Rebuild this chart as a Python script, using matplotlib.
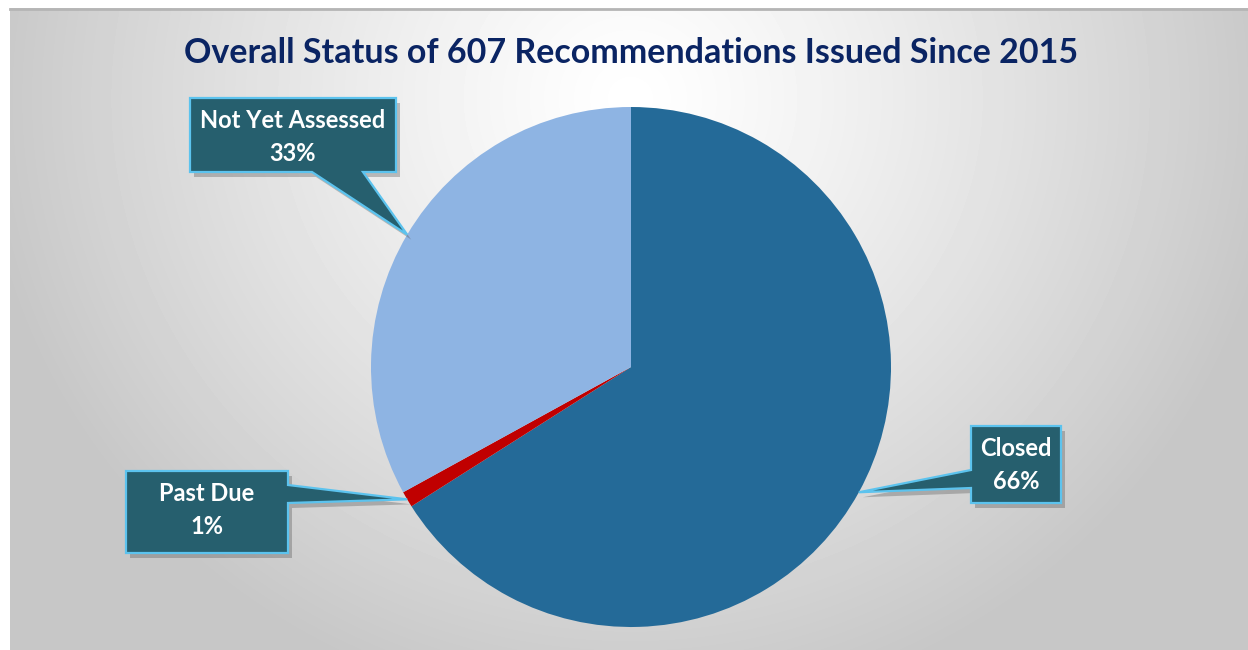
import numpy as np
import matplotlib
matplotlib.use('Agg')
import matplotlib.pyplot as plt
from matplotlib.patches import Polygon

# data
labels = ['Closed', 'Past Due', 'Not Yet Assessed']
shares = [66, 1, 33]
colors = ['#246A98', '#C00000', '#8EB4E3']
title = 'Overall Status of 607 Recommendations Issued Since 2015'

W, H = 1248, 650
fig = plt.figure(figsize=(W / 100, H / 100), dpi=100)
fig.patch.set_facecolor('white')

# gray radial background of the chart area
bg = fig.add_axes([10 / W, 0, (W - 10) / W, (H - 8) / H])
bg.set_axis_off()
yy, xx = np.mgrid[0:642, 0:1238]
r = np.sqrt(((xx - 620) / 650.0) ** 2 + ((yy - 90) / 620.0) ** 2)
shade = 1.0 - 0.22 * np.clip(r, 0, 1) ** 1.2
bg.imshow(shade, cmap='gray', vmin=0, vmax=1, aspect='auto', interpolation='bilinear')
fig.add_artist(plt.Line2D([10 / W, 1], [(H - 9) / H] * 2, color='#B5B5B5', lw=2))

# pie
cx, cy, R = 631, 367, 260
pax = fig.add_axes([(cx - R) / W, (H - cy - R) / H, 2 * R / W, 2 * R / H])
wedges, _ = pax.pie(shares, colors=colors, startangle=90, counterclock=False,
                    radius=1, wedgeprops=dict(linewidth=0))
pax.set_xlim(-1, 1)
pax.set_ylim(-1, 1)
pax.set_axis_off()

# overlay in pixel coordinates for callouts
ov = fig.add_axes([0, 0, 1, 1])
ov.set_xlim(0, W)
ov.set_ylim(H, 0)
ov.set_axis_off()

fig.text(631 / W, 1 - 53 / H, title, ha='center', va='center', fontsize=24.5,
         fontweight='bold', color='#0A2463', family='Lato')


def tip_of(w):
    mid = np.deg2rad((w.theta1 + w.theta2) / 2)
    return cx + R * np.cos(mid), cy - R * np.sin(mid)


box_fill = '#265F6E'
box_edge = '#5CC3EE'


def callout(verts, text, tx, ty):
    sh = [(x + 4, y + 5) for x, y in verts]
    ov.add_patch(Polygon(sh, closed=True, facecolor='#555555', alpha=0.35, lw=0))
    ov.add_patch(Polygon(verts, closed=True, facecolor=box_fill, edgecolor=box_edge,
                         lw=1.6, joinstyle='miter'))
    ov.text(tx, ty, text, ha='center', va='center', color='white', fontsize=17,
            fontweight='bold', family='Lato', linespacing=1.55)


t_closed = tip_of(wedges[0])
t_past = tip_of(wedges[1])
t_nya = tip_of(wedges[2])

callout([(190, 98), (396, 98), (396, 172), (363, 172), t_nya, (312, 172), (190, 172)],
        'Not Yet Assessed\n33%', 293, 137)
callout([(126, 471), (288, 471), (288, 485), t_past, (288, 503), (288, 553), (126, 553)],
        'Past Due\n1%', 207, 510)
callout([(971, 426), (1061, 426), (1061, 503), (971, 503), (971, 488), t_closed, (971, 470)],
        'Closed\n66%', 1016, 465)

fig.savefig('out.png', dpi=100, facecolor=fig.get_facecolor())
